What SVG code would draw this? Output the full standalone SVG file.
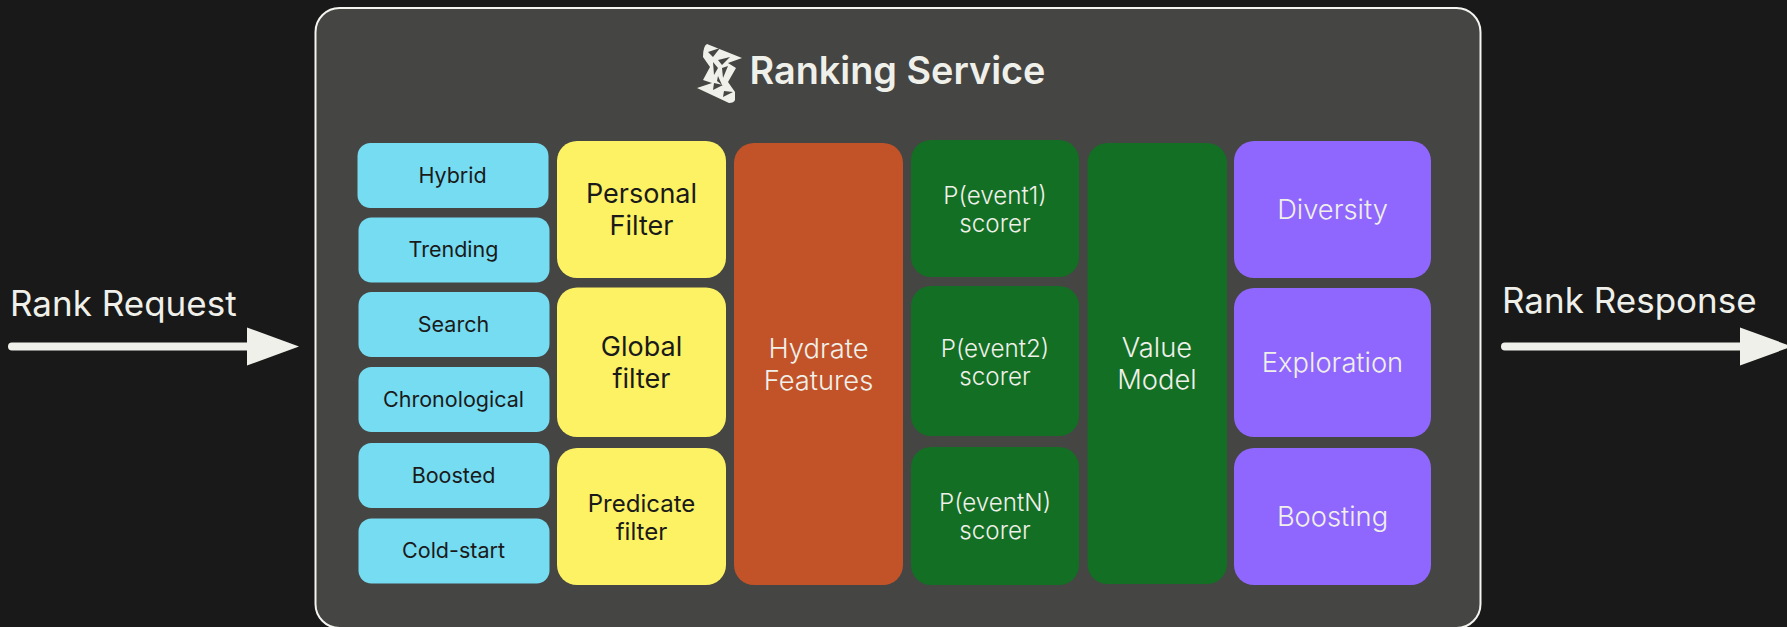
<svg xmlns="http://www.w3.org/2000/svg" width="1787" height="627" viewBox="0 0 1787 627">
<style>
text{font-family:Inter,"Liberation Sans",sans-serif;text-anchor:middle}
.c{fill:#76dcf1}.y{fill:#fcf264}.o{fill:#c25329}.g{fill:#136f24}.p{fill:#9067fe}
.d{fill:#1a1a1a}.l{fill:#f0f0ea;font-weight:300}
.s{font-size:21.5px}.m{font-size:27.300px}.n{font-size:24.200px}
.lab{font-size:35px;text-anchor:start;fill:#f0f0ea;font-weight:400}
</style>
<defs>
<marker id="ah" markerUnits="userSpaceOnUse" markerWidth="52" markerHeight="38" refX="3" refY="19" orient="auto" overflow="visible"><polygon points="0,0 52,19 0,38" fill="#f0f0ea"/></marker>
</defs>
<rect width="1787" height="627" fill="#191919"/>
<g id="ranking-service">
<rect x="315.500" y="8" width="1165" height="620" rx="24" fill="#454543" stroke="#f4f4f0" stroke-width="2"/>
<g id="logo">
<path fill="#f0f0ea" d="M707 44 742 58 728 63 736 68 728 82 735 92 735 100Q734 103 729 103L697 88 712 83 703 80 710 67 703 57Q703 46 707 44Z"/>
<path fill="#454543" d="M708 52 720 48 713 57ZM718 60 730 57 722 65ZM713 62 718 68 714 75ZM722 68 728 66 723 78ZM714 83 723 85 713 90ZM724 91 733 92 723 97ZM718 76 722 85 717 81Z"/>
</g>
<text x="897.500" y="84" fill="#f0f0ea" style="font-size:37.800px;font-weight:600">Ranking Service</text>
</g>
<g id="hybrid"><rect class="c" x="357.500" y="143" width="191" height="65" rx="13"/><text class="s d" x="452.500" y="183">Hybrid</text></g>
<g id="trending"><rect class="c" x="358.500" y="217.500" width="191" height="65" rx="13"/><text class="s d" x="453.500" y="257">Trending</text></g>
<g id="search"><rect class="c" x="358.500" y="292" width="191" height="65" rx="13"/><text class="s d" x="453.500" y="332">Search</text></g>
<g id="chronological"><rect class="c" x="358.500" y="367" width="191" height="65" rx="13"/><text class="s d" x="453.500" y="407">Chronological</text></g>
<g id="boosted"><rect class="c" x="358.500" y="443" width="191" height="65" rx="13"/><text class="s d" x="453.500" y="483">Boosted</text></g>
<g id="cold-start"><rect class="c" x="358.500" y="518.500" width="191" height="65" rx="13"/><text class="s d" x="453.500" y="558">Cold-start</text></g>
<g id="personal-filter"><rect class="y" x="557" y="141" width="169" height="137" rx="20"/><text class="m d" style="font-size:27px" x="641.500" y="203">Personal</text><text class="m d" style="font-size:27px" x="641.500" y="235">Filter</text></g>
<g id="global-filter"><rect class="y" x="557" y="287.500" width="169" height="149.500" rx="20"/><text class="m d" style="font-size:27px" x="641.500" y="356">Global</text><text class="m d" style="font-size:27px" x="641.500" y="388">filter</text></g>
<g id="predicate-filter"><rect class="y" x="557" y="448" width="169" height="137" rx="20"/><text class="d" style="font-size:24px" x="641.500" y="512">Predicate</text><text class="d" style="font-size:24px" x="641.500" y="540">filter</text></g>
<g id="hydrate-features"><rect class="o" x="734" y="143" width="169" height="442" rx="20"/><text class="m l" x="818.500" y="358">Hydrate</text><text class="m l" x="818.500" y="390">Features</text></g>
<g id="event1"><rect class="g" x="911" y="140" width="168" height="137" rx="20"/><text class="n l" x="995" y="204">P(event1)</text><text class="n l" x="995" y="232">scorer</text></g>
<g id="event2"><rect class="g" x="911" y="286" width="168" height="150" rx="20"/><text class="n l" x="995" y="357">P(event2)</text><text class="n l" x="995" y="385">scorer</text></g>
<g id="eventN"><rect class="g" x="911" y="447" width="168" height="138" rx="20"/><text class="n l" x="995" y="511">P(eventN)</text><text class="n l" x="995" y="539">scorer</text></g>
<g id="value-model"><rect class="g" x="1087.500" y="143" width="139.500" height="441" rx="20"/><text class="m l" x="1157" y="357">Value</text><text class="m l" x="1157" y="389">Model</text></g>
<g id="diversity"><rect class="p" x="1234" y="141" width="197" height="137" rx="20"/><text class="m l" x="1332.500" y="219">Diversity</text></g>
<g id="exploration"><rect class="p" x="1234" y="288" width="197" height="149" rx="20"/><text class="m l" x="1332.500" y="372">Exploration</text></g>
<g id="boosting"><rect class="p" x="1234" y="448" width="197" height="137" rx="20"/><text class="m l" x="1332.500" y="526">Boosting</text></g>
<g id="connectors" fill="none" stroke="#f0f0ea" stroke-width="8" stroke-linecap="round">
<line x1="12" y1="346.500" x2="250" y2="346.500" marker-end="url(#ah)"/>
<line x1="1505" y1="346.500" x2="1743" y2="346.500" marker-end="url(#ah)"/>
</g>
<text class="lab" x="10" y="316">Rank Request</text>
<text class="lab" x="1502" y="313">Rank Response</text>
</svg>
